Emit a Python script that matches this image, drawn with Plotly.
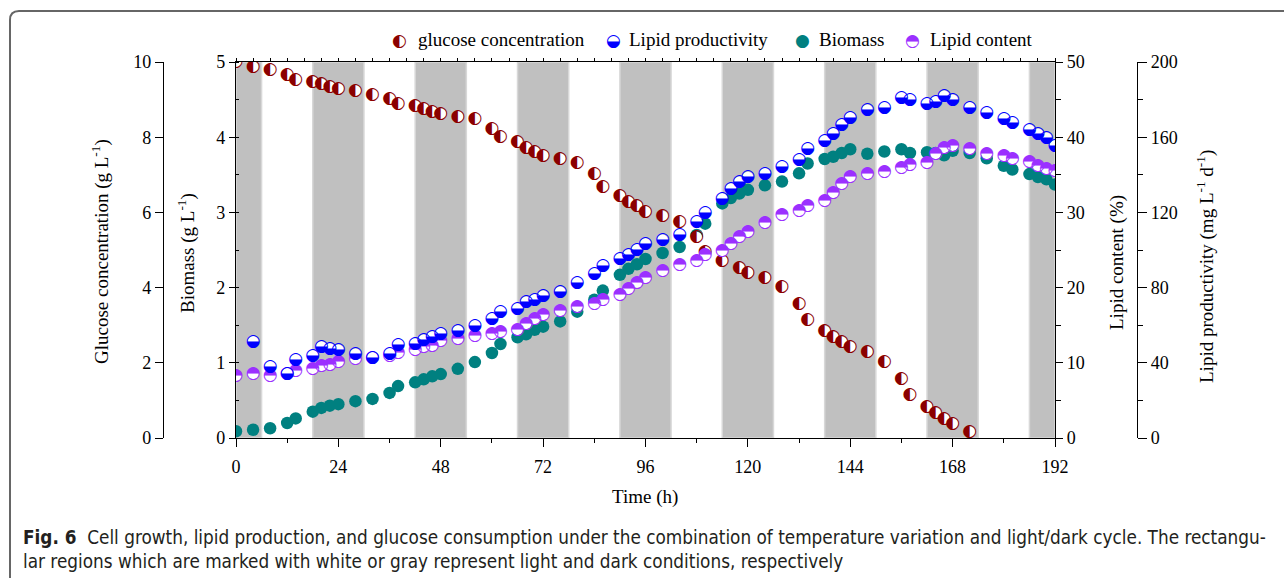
import plotly.graph_objects as go

# ---------------- data ----------------
time_all = [0, 4, 8, 12, 14, 18, 20, 22, 24, 28, 32, 36, 38, 42, 44, 46, 48, 52, 56, 60, 62,
            66, 68, 70, 72, 76, 80, 84, 86, 90, 92, 94, 96, 100, 104, 108, 110, 114, 116, 118,
            120, 124, 128, 132, 134, 138, 140, 142, 144, 148, 152, 156, 158, 162, 164, 166,
            168, 172, 176, 180, 182, 186, 188, 190, 192]

glucose_time = [0, 4, 8, 12, 14, 18, 20, 22, 24, 28, 32, 36, 38, 42, 44, 46, 48, 52, 56, 60, 62,
                66, 68, 70, 72, 76, 80, 84, 86, 90, 92, 94, 96, 100, 104, 108, 110, 114, 118,
                120, 124, 128, 132, 134, 138, 140, 142, 144, 148, 152, 156, 158, 162, 164, 166,
                168, 172]
glucose = [10.0, 9.87, 9.79, 9.67, 9.54, 9.47, 9.41, 9.34, 9.29, 9.24, 9.14, 9.02, 8.90,
           8.83, 8.76, 8.69, 8.62, 8.55, 8.48, 8.23, 8.01, 7.87, 7.73, 7.61, 7.52, 7.43, 7.31,
           7.02, 6.67, 6.44, 6.28, 6.17, 6.03, 5.90, 5.74, 5.34, 4.95, 4.71, 4.52, 4.40, 4.26,
           4.02, 3.58, 3.14, 2.84, 2.68, 2.55, 2.43, 2.29, 2.04, 1.58, 1.14, 0.83, 0.66, 0.51,
           0.39, 0.16]

biomass = [0.09, 0.11, 0.13, 0.20, 0.26, 0.35, 0.40, 0.43, 0.45, 0.49, 0.52, 0.60, 0.69,
           0.74, 0.78, 0.82, 0.85, 0.92, 1.01, 1.13, 1.25, 1.34, 1.38, 1.44, 1.48, 1.55, 1.68,
           1.84, 1.96, 2.17, 2.25, 2.31, 2.38, 2.46, 2.54, 2.70, 2.85, 3.12, 3.19, 3.25, 3.30,
           3.36, 3.41, 3.52, 3.65, 3.71, 3.74, 3.79, 3.84, 3.78, 3.81, 3.84, 3.79, 3.80, 3.79,
           3.76, 3.82, 3.79, 3.72, 3.62, 3.57, 3.51, 3.47, 3.44, 3.37]

productivity_time = time_all[1:]
productivity = [51.4, 37.9, 34.4, 41.5, 44.0, 48.6, 47.5, 46.8, 44.7, 42.9, 45.0, 49.6,
                50.0, 52.1, 53.9, 55.7, 57.1, 59.6, 63.5, 67.0, 68.8, 72.3, 73.8, 75.5, 77.7,
                82.6, 87.2, 91.5, 95.4, 97.5, 100.4, 103.4, 105.3, 108.1, 114.9, 119.8, 127.3,
                132.6, 136.2, 138.7, 140.8, 144.3, 147.9, 153.9, 158.1, 162.1, 166.7, 170.6,
                174.5, 175.5, 180.9, 179.8, 178.0, 179.1, 181.9, 179.8, 175.9, 173.0, 169.8,
                167.7, 163.8, 161.7, 159.6, 155.7]

lipid_content = [8.34, 8.51, 8.34, 8.60, 8.95, 9.22, 9.57, 9.75, 10.1, 10.5, 10.7, 11.0, 11.3,
                 11.7, 12.1, 12.3, 12.9, 13.2, 13.6, 13.8, 14.1, 14.4, 15.2, 15.8, 16.4, 16.9,
                 17.5, 17.9, 18.4, 19.1, 19.8, 20.7, 21.3, 22.2, 23.0, 23.6, 24.4, 24.9, 25.8,
                 26.7, 27.4, 28.6, 29.7, 30.2, 30.9, 31.5, 32.6, 33.8, 34.7, 35.1, 35.4, 35.9,
                 36.3, 36.6, 37.8, 38.6, 38.9, 38.4, 37.8, 37.5, 37.1, 36.8, 36.2, 35.8, 35.5]

dark_periods = [(0, 6), (18, 30), (42, 54), (66, 78), (90, 102), (114, 126), (138, 150),
                (162, 174), (186, 192)]

x_ticks = [0, 24, 48, 72, 96, 120, 144, 168, 192]

# ---------------- style ----------------
C_GLU = "#8B0000"
C_PROD = "#0000FF"
C_BIO = "#008080"
C_LIP = "#9B30FF"
SERIF = "Liberation Serif, Times New Roman, serif"
GLYPH = "DejaVu Sans"
W, H = 1284, 578
ML, MR, MT, MB = 60, 60, 62, 140
PW = W - ML - MR
PH = H - MT - MB


def px(xp):
    return (xp - ML) / PW


def py(yp):
    return (H - MB - yp) / PH


MS = 11
GS = 17

fig = go.Figure()


def half_series(x, y, yaxis, color, glyph, name):
    fig.add_trace(go.Scatter(x=x, y=y, yaxis=yaxis, mode="markers", name=name,
                             marker=dict(symbol="circle", size=MS, color="white",
                                         line=dict(width=0)),
                             showlegend=False, hoverinfo="skip"))
    fig.add_trace(go.Scatter(x=x, y=y, yaxis=yaxis, mode="text", name=name,
                             text=[glyph] * len(x), textposition="middle center",
                             textfont=dict(family=GLYPH, size=GS, color=color),
                             showlegend=False))


fig.add_trace(go.Scatter(x=time_all, y=biomass, yaxis="y", mode="markers", name="Biomass",
                         marker=dict(symbol="circle", size=12.5, color=C_BIO,
                                     line=dict(width=0)), showlegend=False))
half_series(time_all, lipid_content, "y3", C_LIP, "\u25D3", "Lipid content")
half_series(productivity_time, productivity, "y4", C_PROD, "\u25D2", "Lipid productivity")
half_series(glucose_time, glucose, "y2", C_GLU, "\u25D0", "glucose concentration")

# top mirror axis trace anchor (invisible)
fig.add_trace(go.Scatter(x=[0, 192], y=[0, 0], xaxis="x2", yaxis="y", mode="markers",
                         marker=dict(opacity=0), showlegend=False, hoverinfo="skip"))

shapes = []
for s, e in dark_periods:
    shapes.append(dict(type="rect", xref="x", yref="paper", x0=s, x1=e, y0=0, y1=1,
                       fillcolor="#c0c0c0", line=dict(color="#d8d8d8", width=1.5),
                       layer="below"))

# outer frame (rounded top-left corner)
xl, yt = px(10), py(11)
rx, ry = 9 / PW, 9 / PH
shapes.append(dict(type="path", xref="paper", yref="paper",
                   path=f"M {xl},-0.6 L {xl},{yt - ry} Q {xl},{yt} {xl + rx},{yt} L 1.2,{yt}",
                   line=dict(color="#666666", width=2)))

tickfont = dict(family=SERIF, size=18, color="black")
common = dict(showgrid=False, zeroline=False, showline=True, linecolor="black", linewidth=1.3,
              tickcolor="black", tickwidth=1.3, tickfont=tickfont)

dom = [px(236), px(1055)]

annotations = []


def ann(text, x, y, size=19, angle=0, xanchor="center", family=SERIF, color="black"):
    annotations.append(dict(text=text, x=x, y=y, xref="paper", yref="paper", showarrow=False,
                            textangle=angle, xanchor=xanchor, yanchor="middle",
                            font=dict(family=family, size=size, color=color)))


ann("Glucose concentration (g L<sup>-1</sup>)", px(101), py(252), angle=-90)
ann("Biomass (g L<sup>-1</sup>)", px(186), py(253), angle=-90)
ann("Lipid content (%)", px(1117), py(263), angle=-90)
ann("Lipid productivity (mg L<sup>-1</sup> d<sup>-1</sup>)", px(1205), py(267), angle=-90)
ann("Time (h)", px(645), py(497))

# legend
leg_y = py(40)
legend_items = [("\u25D0", C_GLU, 399, "glucose concentration", 416),
                ("\u25D2", C_PROD, 613, "Lipid productivity", 627),
                ("\u25CF", C_BIO, 802, "Biomass", 817),
                ("\u25D3", C_LIP, 912, "Lipid content", 928)]
for g, c, gx, label, tx in legend_items:
    ann(g, px(gx), leg_y, size=GS, family=GLYPH, color=c)
    ann(label, px(tx), leg_y, size=19, xanchor="left")

CAP = "Liberation Sans Narrow, DejaVu Sans Condensed, Arial Narrow, sans-serif"
ann("<b>Fig. 6</b>  Cell growth, lipid production, and glucose consumption under the combination "
    "of temperature variation and light/dark cycle. The rectangu-",
    px(21), py(537), size=18.8, xanchor="left", family=CAP, color="#231f20")
ann("lar regions which are marked with white or gray represent light and dark conditions, "
    "respectively", px(21), py(561), size=18.8, xanchor="left", family=CAP, color="#231f20")

fig.update_layout(
    width=W, height=H,
    margin=dict(l=ML, r=MR, t=MT, b=MB),
    paper_bgcolor="white", plot_bgcolor="white",
    showlegend=False,
    shapes=shapes,
    annotations=annotations,
    xaxis=dict(domain=dom, range=[0, 192], tickvals=x_ticks, ticks="outside", ticklen=8,
               minor=dict(dtick=12, tick0=0, ticks="outside", ticklen=4, tickcolor="black"),
               ticklabelstandoff=4, anchor="y", **common),
    xaxis2=dict(domain=dom, range=[0, 192], overlaying="x", side="top", anchor="y",
                dtick=4, tick0=0, ticks="outside", ticklen=3, showticklabels=False, **common),
    yaxis=dict(range=[0, 5], dtick=1, ticks="outside", ticklen=6, anchor="x",
               minor=dict(dtick=0.5, ticks="inside", ticklen=3, tickcolor="black"), **common),
    yaxis2=dict(range=[0, 10], dtick=2, ticks="outside", ticklen=8, overlaying="y",
                side="left", anchor="free", position=px(163), **common),
    yaxis3=dict(range=[0, 50], dtick=10, ticks="outside", ticklen=7, overlaying="y",
                side="right", anchor="x",
                minor=dict(dtick=5, ticks="outside", ticklen=5, tickcolor="black"), **common),
    yaxis4=dict(range=[0, 200], dtick=40, ticks="outside", ticklen=9, overlaying="y",
                side="right", anchor="free", position=px(1137),
                minor=dict(dtick=20, ticks="outside", ticklen=5, tickcolor="black"), **common),
)

fig.write_html("out.html")
